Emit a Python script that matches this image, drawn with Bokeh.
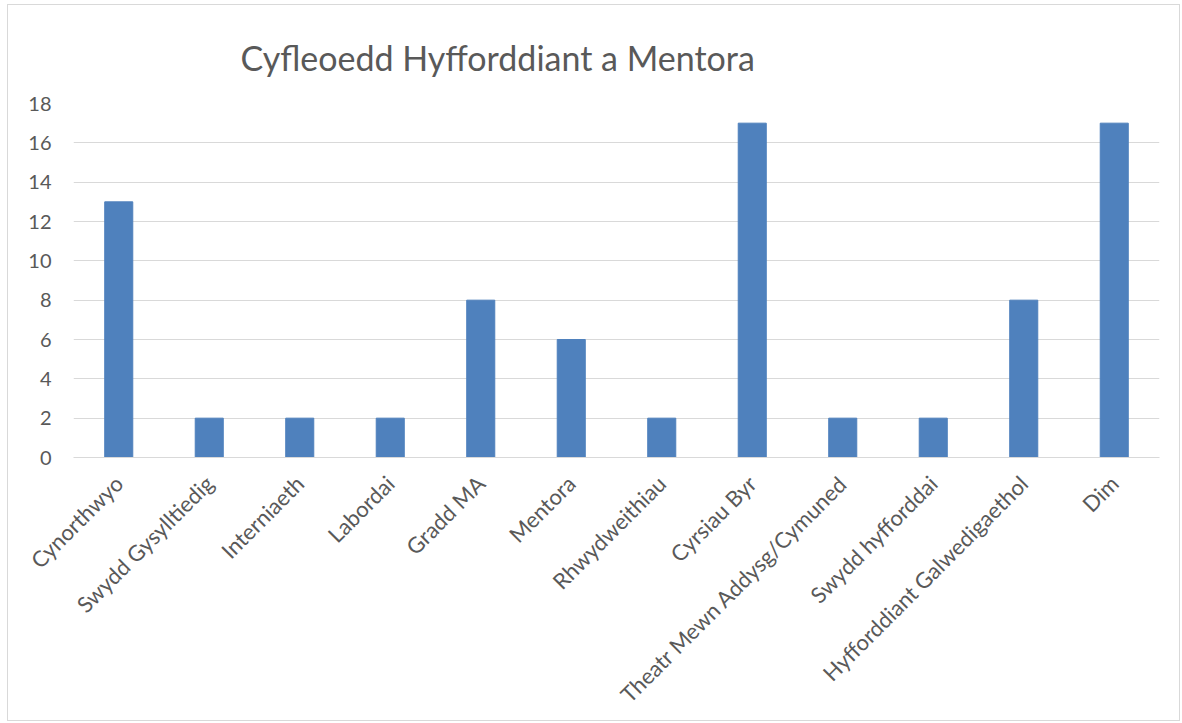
from math import pi
from bokeh.plotting import figure
from bokeh.models import Range1d, FixedTicker
from bokeh.embed import file_html
from bokeh.resources import INLINE

categories = ["Cynorthwyo", "Swydd Gysylltiedig", "Interniaeth", "Labordai", "Gradd MA",
              "Mentora", "Rhwydweithiau", "Cyrsiau Byr", "Theatr Mewn Addysg/Cymuned",
              "Swydd hyfforddai", "Hyfforddiant Galwedigaethol", "Dim"]
values = [13, 2, 2, 2, 8, 6, 2, 17, 2, 2, 8, 17]
y_ticks = [0, 2, 4, 6, 8, 10, 12, 14, 16, 18]

FONT = "Lato"
TXT = "#595959"

p = figure(x_range=categories, y_range=Range1d(0, 18), width=1173, height=717,
           output_backend="svg", toolbar_location=None,
           title="Cyfleoedd Hyfforddiant a Mentora",
           min_border_left=65, min_border_right=22, min_border_bottom=265, min_border_top=98)

p.vbar(x=categories, top=values, width=0.31, color="#4F81BD", line_color="#4F81BD")

p.title.text_font = FONT
p.title.text_font_size = "34px"
p.title.text_font_style = "normal"
p.title.text_color = TXT
p.title.align = "left"
p.title.offset = 167
p.title.standoff = 51

p.outline_line_color = None
p.xgrid.grid_line_color = None
p.ygrid.grid_line_color = "#D9D9D9"
p.ygrid.grid_line_width = 1

p.yaxis.ticker = FixedTicker(ticks=y_ticks)
p.yaxis.axis_line_color = None
p.yaxis.major_tick_line_color = None
p.yaxis.minor_tick_line_color = None
p.yaxis.major_label_text_font = FONT
p.yaxis.major_label_text_font_size = "20px"
p.yaxis.major_label_text_color = TXT
p.yaxis.major_label_standoff = 16

p.xaxis.axis_line_color = "#D9D9D9"
p.xaxis.axis_line_width = 1
p.xaxis.major_tick_line_color = None
p.xaxis.minor_tick_line_color = None
p.xaxis.major_label_orientation = pi / 4
p.xaxis.major_label_text_font = FONT
p.xaxis.major_label_text_font_size = "22px"
p.xaxis.major_label_text_color = TXT
p.xaxis.major_label_standoff = 16

p.styles = {"border": "1px solid #D9D9D9", "margin-left": "7px", "margin-top": "4px"}

open("out.html", "w").write(file_html(p, INLINE))
